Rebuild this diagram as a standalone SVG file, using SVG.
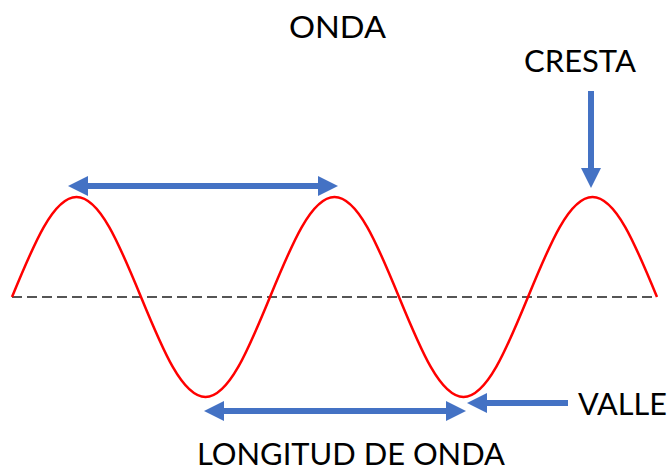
<svg xmlns="http://www.w3.org/2000/svg" width="670" height="471" viewBox="0 0 670 471">
<style>
.lbl{font-family:Lato,"Liberation Sans",sans-serif;font-size:30px;fill:#000}
.arr{stroke:#4472C4;stroke-width:6;fill:none}
.axis{stroke:#555;stroke-width:2;stroke-dasharray:10 5;fill:none}
.wave{stroke:#FF0000;stroke-width:2.5;fill:none}
</style>
<defs>
<marker id="ah" markerUnits="userSpaceOnUse" markerWidth="20" markerHeight="20" viewBox="0 0 20 20" refX="10" refY="10" orient="auto-start-reverse">
<path d="M0,0 L20,10 L0,20 z" fill="#4472C4"/>
</marker>
</defs>
<rect width="670" height="471" fill="#fff"/>
<g id="axis"><line class="axis" x1="12" y1="297" x2="657" y2="297"/></g>
<g id="wave"><path class="wave" d="M12,297 c21.56,-52.5 41.25,-100 64.5,-100 c23.25,0 42.94,47.5 64.5,100 c21.56,52.5 41.25,100 64.5,100 c23.25,0 42.94,-47.5 64.5,-100 c21.56,-52.5 41.25,-100 64.5,-100 c23.25,0 42.94,47.5 64.5,100 c21.56,52.5 41.25,100 64.5,100 c23.25,0 42.94,-47.5 64.5,-100 c21.56,-52.5 41.25,-100 64.5,-100 c23.25,0 42.94,47.5 64.5,100"/></g>
<g id="title"><text class="lbl" x="289" y="38" textLength="97" lengthAdjust="spacingAndGlyphs">ONDA</text></g>
<g id="cresta"><text class="lbl" x="524" y="72" textLength="112" lengthAdjust="spacingAndGlyphs">CRESTA</text></g>
<g id="valle"><text class="lbl" x="578" y="415" textLength="89" lengthAdjust="spacingAndGlyphs">VALLE</text></g>
<g id="longitud"><text class="lbl" x="197" y="465" textLength="308" lengthAdjust="spacingAndGlyphs">LONGITUD DE ONDA</text></g>
<g id="connectors">
<line class="arr" x1="78" y1="186" x2="328" y2="186" marker-start="url(#ah)" marker-end="url(#ah)"/>
<line class="arr" x1="214" y1="411" x2="456" y2="411" marker-start="url(#ah)" marker-end="url(#ah)"/>
<line class="arr" x1="591" y1="91" x2="591" y2="178" marker-end="url(#ah)"/>
<line class="arr" x1="568" y1="403" x2="477" y2="403" marker-end="url(#ah)"/>
</g>
</svg>
